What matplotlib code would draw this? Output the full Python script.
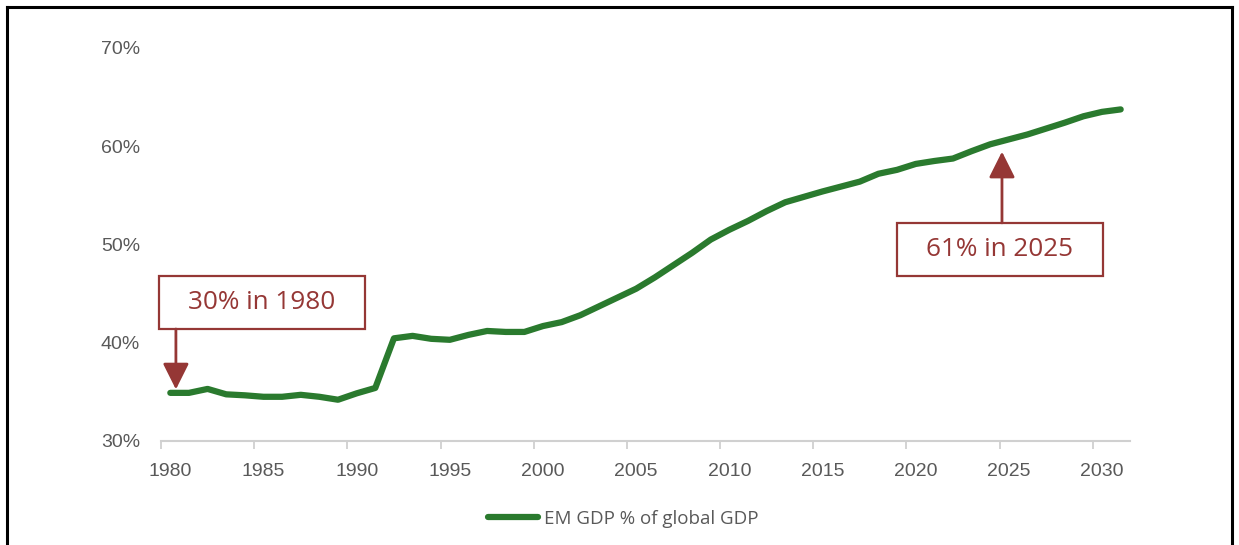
import matplotlib.pyplot as plt
import matplotlib.ticker as mticker
from matplotlib.lines import Line2D
from matplotlib.patches import Rectangle

# EM share of global GDP (%)
years = list(range(1980, 2032))
em_share = [34.9, 34.9, 35.3, 34.75, 34.65, 34.5, 34.5, 34.7, 34.5, 34.2,
            34.85, 35.4, 40.45, 40.7, 40.4, 40.3, 40.8, 41.2, 41.1, 41.1,
            41.7, 42.1, 42.8, 43.7, 44.6, 45.5, 46.65, 47.9, 49.15, 50.5,
            51.5, 52.4, 53.4, 54.3, 54.85, 55.4, 55.9, 56.4, 57.2, 57.6,
            58.2, 58.5, 58.75, 59.5, 60.2, 60.7, 61.2, 61.8, 62.4, 63.05,
            63.5, 63.75]
tick_years = [1980, 1985, 1990, 1995, 2000, 2005, 2010, 2015, 2020, 2025, 2030]
y_ticks = [30, 40, 50, 60, 70]
series_label = "EM GDP % of global GDP"

notes = ["30% in 1980", "61% in 2025"]

GREEN = "#2a7a2e"
RED = "#953735"
GREY = "#595959"

fig = plt.figure(figsize=(12.39, 5.45), dpi=100)
ax = fig.add_axes([161 / 1239, 104 / 545, 969 / 1239, 393 / 545])

ax.plot(years, em_share, color=GREEN, lw=4.5, solid_capstyle="round",
        solid_joinstyle="round")

ax.set_xlim(1979.5, 2031.5)
ax.set_ylim(30, 70)

# tick marks sit between categories, labels sit on the category centre
ax.set_xticks([y - 0.5 for y in tick_years])
ax.xaxis.set_major_formatter(mticker.NullFormatter())
ax.set_xticks(tick_years, minor=True)
ax.set_xticklabels([str(y) for y in tick_years], minor=True)
ax.tick_params(axis="x", which="major", length=6, width=1.3, color="#d0d0d0")
ax.tick_params(axis="x", which="minor", length=0, pad=15.5, labelsize=14,
               labelcolor=GREY)

ax.set_yticks(y_ticks)
ax.yaxis.set_major_formatter(mticker.FuncFormatter(lambda v, p: f"{v:.0f}%"))
ax.tick_params(axis="y", length=0, pad=15, labelsize=14, labelcolor=GREY)
for lab in ax.get_xticklabels(minor=True) + ax.get_yticklabels():
    lab.set_family("Liberation Sans")

for s in ["top", "right", "left"]:
    ax.spines[s].set_visible(False)
ax.spines["bottom"].set_color("#d0d0d0")
ax.spines["bottom"].set_linewidth(1.5)

# annotation boxes (centre year, centre value) and arrows
box_w, box_h = 11.05, 5.4
boxes = [(1984.92, 44.1), (2024.52, 49.45)]
arrows = [((1980.3, 41.4), (1980.3, 35.25)), ((2024.63, 52.2), (2024.63, 59.45))]
for txt, (bx, by), (start, end) in zip(notes, boxes, arrows):
    ax.add_patch(Rectangle((bx - box_w / 2, by - box_h / 2), box_w, box_h,
                           facecolor="white", edgecolor=RED, lw=1.6, zorder=4,
                           clip_on=False))
    ax.text(bx, by, txt, ha="center", va="center", color=RED, fontsize=18.8,
            family="Open Sans", zorder=5)
    ax.annotate("", xy=end, xytext=start,
                arrowprops=dict(arrowstyle="-|>,head_length=0.8,head_width=0.4",
                                color=RED, lw=2, mutation_scale=20,
                                shrinkA=0, shrinkB=0),
                zorder=5)

handle = Line2D([], [], color=GREEN, lw=4.5, solid_capstyle="round")
fig.legend([handle], [series_label], loc="center",
           bbox_to_anchor=(623 / 1239, 26 / 545), frameon=False,
           handlelength=2.7, handletextpad=0.3,
           prop={"family": "Open Sans", "size": 13.5}, labelcolor=GREY)

# black frame of the screenshot
for xs, ys in [([7, 7], [0, 538]), ([7, 1232], [538, 538]), ([1232, 1232], [0, 538])]:
    fig.add_artist(Line2D([x / 1239 for x in xs], [y / 545 for y in ys],
                          color="black", lw=2.2))

fig.savefig("out.png", dpi=100)
